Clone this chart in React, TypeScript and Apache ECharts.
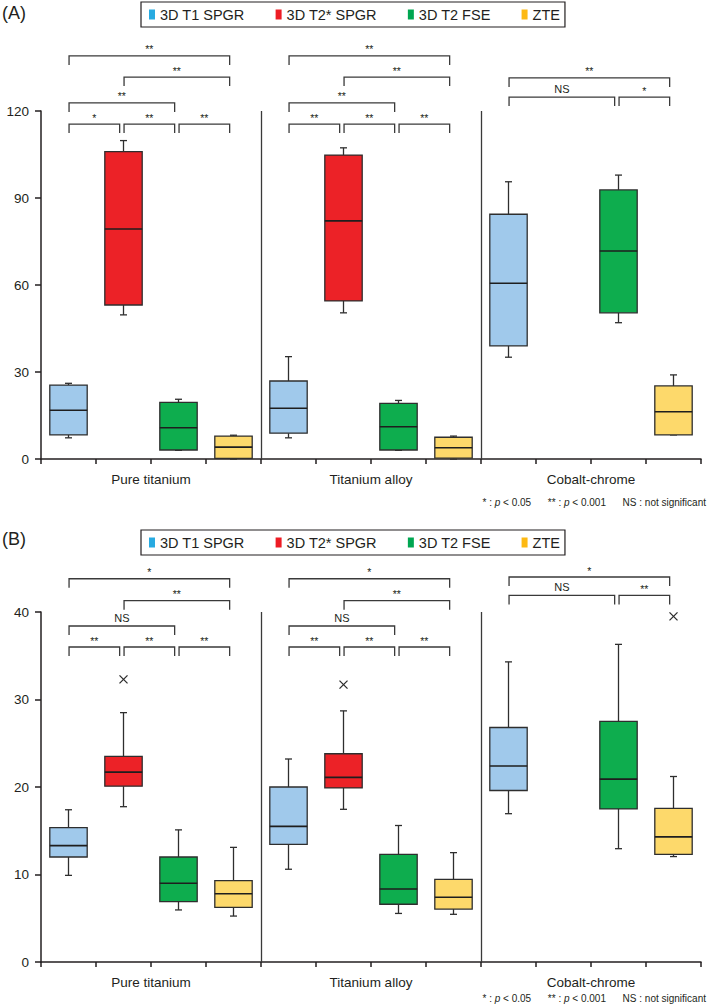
import React, { useEffect, useRef } from 'react';
import * as echarts from 'echarts';

// ---------- data ----------
const categories = ['Pure titanium', 'Titanium alloy', 'Cobalt-chrome'];
const modalities = ['3D T1 SPGR', '3D T2* SPGR', '3D T2 FSE', 'ZTE'];
const legendColors = ['#27AAE1', '#ED1C24', '#00A651', '#FDB913'];
const boxColors = ['#A0C9EB', '#EC2227', '#0EAD4E', '#FDD96B'];

// Panel A: [min, q1, median, q3, max] per category (null = not measured)
const aT1 = [[7.3, 8.3, 16.8, 25.5, 26.1], [7.3, 8.9, 17.5, 26.9, 35.3], [35.1, 39.0, 60.6, 84.4, 95.6]];
const aT2s = [[49.7, 53.1, 79.3, 106.0, 109.8], [50.4, 54.5, 82.1, 104.8, 107.3], null];
const aFSE = [[3.0, 3.1, 10.8, 19.5, 20.6], [3.0, 3.1, 11.1, 19.2, 20.2], [47.0, 50.4, 71.7, 92.8, 97.9]];
const aZTE = [[0.0, 0.2, 4.1, 7.9, 8.2], [0.0, 0.3, 3.9, 7.5, 7.9], [8.3, 8.3, 16.3, 25.2, 29.0]];

// Panel B
const bT1 = [[9.9, 12.0, 13.3, 15.35, 17.4], [10.6, 13.45, 15.5, 20.0, 23.2], [16.95, 19.6, 22.4, 26.8, 34.3]];
const bT2s = [[17.75, 20.1, 21.7, 23.5, 28.5], [17.45, 19.9, 21.1, 23.8, 28.7], null];
const bFSE = [[5.95, 6.9, 9.0, 12.0, 15.1], [5.55, 6.6, 8.35, 12.3, 15.6], [12.95, 17.5, 20.9, 27.5, 36.3]];
const bZTE = [[5.25, 6.25, 7.8, 9.3, 13.1], [5.45, 6.05, 7.4, 9.45, 12.5], [12.05, 12.3, 14.3, 17.55, 21.2]];

// Outliers (panel B) per modality, per category
const bT2sOutliers = [32.3, 31.7, null];
const bZTEOutliers = [null, null, 39.5];

// Significance brackets: [category, fromModality, toModality, level, label]
const aBrackets: [number, number, number, number, string][] = [
  [0, 0, 1, 115.5, '*'], [0, 1, 2, 115.5, '**'], [0, 2, 3, 115.5, '**'],
  [0, 0, 2, 122.8, '**'], [0, 1, 3, 131.7, '**'], [0, 0, 3, 139.0, '**'],
  [1, 0, 1, 115.5, '**'], [1, 1, 2, 115.5, '**'], [1, 2, 3, 115.5, '**'],
  [1, 0, 2, 122.8, '**'], [1, 1, 3, 131.7, '**'], [1, 0, 3, 139.0, '**'],
  [2, 0, 2, 124.8, 'NS'], [2, 2, 3, 124.8, '*'], [2, 0, 3, 131.4, '**'],
];
const bBrackets: [number, number, number, number, string][] = [
  [0, 0, 1, 36.0, '**'], [0, 1, 2, 36.0, '**'], [0, 2, 3, 36.0, '**'],
  [0, 0, 2, 38.4, 'NS'], [0, 1, 3, 41.3, '**'], [0, 0, 3, 43.8, '*'],
  [1, 0, 1, 36.0, '**'], [1, 1, 2, 36.0, '**'], [1, 2, 3, 36.0, '**'],
  [1, 0, 2, 38.4, 'NS'], [1, 1, 3, 41.3, '**'], [1, 0, 3, 43.8, '*'],
  [2, 0, 2, 41.9, 'NS'], [2, 2, 3, 41.9, '**'], [2, 0, 3, 44.0, '*'],
];

const aYTicks = { min: 0, max: 120, interval: 30 };
const bYTicks = { min: 0, max: 40, interval: 10 };

// ---------- styling ----------
const INK = '#231F20';
const BOX_STROKE = '#2E2E2E';
const FONT = '"Liberation Sans", Arial, Helvetica, sans-serif';

const slotX = (cat: number, mod: number) => cat * 4 + mod + 0.5;

function boxRender(fill: string) {
  return (params: any, api: any) => {
    const x = api.value(0);
    const mn = api.value(1), q1 = api.value(2), md = api.value(3), q3 = api.value(4), mx = api.value(5);
    const w = api.size([1, 0])[0] * 0.68;
    const half = w / 2;
    const cap = 3.5;
    const pMin = api.coord([x, mn]);
    const pQ1 = api.coord([x, q1]);
    const pMd = api.coord([x, md]);
    const pQ3 = api.coord([x, q3]);
    const pMax = api.coord([x, mx]);
    const cx = pMd[0];
    const ls = { stroke: BOX_STROKE, lineWidth: 1.3 };
    return {
      type: 'group',
      children: [
        { type: 'line', shape: { x1: cx, y1: pQ3[1], x2: cx, y2: pMax[1] }, style: ls },
        { type: 'line', shape: { x1: cx - cap, y1: pMax[1], x2: cx + cap, y2: pMax[1] }, style: ls },
        { type: 'line', shape: { x1: cx, y1: pQ1[1], x2: cx, y2: pMin[1] }, style: ls },
        { type: 'line', shape: { x1: cx - cap, y1: pMin[1], x2: cx + cap, y2: pMin[1] }, style: ls },
        {
          type: 'rect',
          shape: { x: cx - half, y: pQ3[1], width: w, height: Math.max(pQ1[1] - pQ3[1], 0.5) },
          style: { fill, stroke: BOX_STROKE, lineWidth: 1.3 },
        },
        { type: 'line', shape: { x1: cx - half, y1: pMd[1], x2: cx + half, y2: pMd[1] }, style: { stroke: '#1E1E1E', lineWidth: 1.6 } },
      ],
    };
  };
}

function outlierRender(params: any, api: any) {
  const p = api.coord([api.value(0), api.value(1)]);
  const s = 4;
  const st = { stroke: '#2B2B2B', lineWidth: 1.2 };
  return {
    type: 'group',
    children: [
      { type: 'line', shape: { x1: p[0] - s, y1: p[1] - s, x2: p[0] + s, y2: p[1] + s }, style: st },
      { type: 'line', shape: { x1: p[0] - s, y1: p[1] + s, x2: p[0] + s, y2: p[1] - s }, style: st },
    ],
  };
}

function bracketRender(list: [number, number, number, number, string][]) {
  return (params: any, api: any) => {
    const b = list[params.dataIndex];
    const p1 = api.coord([api.value(0), api.value(2)]);
    const p2 = api.coord([api.value(1), api.value(2)]);
    const drop = 9;
    const y = p1[1];
    const label = b[4];
    const isNS = label === 'NS';
    return {
      type: 'group',
      children: [
        {
          type: 'polyline',
          shape: { points: [[p1[0], y + drop], [p1[0], y], [p2[0], y], [p2[0], y + drop]] },
          style: { stroke: '#3A3A3A', lineWidth: 1.3, fill: 'none' },
        },
        {
          type: 'text',
          style: {
            text: label,
            x: (p1[0] + p2[0]) / 2,
            y: isNS ? y - 3 : y - 1,
            textAlign: 'center',
            align: 'center',
            textVerticalAlign: 'bottom',
            verticalAlign: 'bottom',
            fontSize: isNS ? 11 : 10.5,
            fontFamily: FONT,
            fill: INK,
            textFill: INK,
          },
        },
      ],
    };
  };
}

const bracketData = (list: [number, number, number, number, string][]) =>
  list.map(([c, f, t, lvl]) => [slotX(c, f) + 0.01, slotX(c, t) - 0.07, lvl]);

const boxData = (rows: (number[] | null)[], mod: number) =>
  rows
    .map((r, c) => (r ? [slotX(c, mod), ...r] : null))
    .filter((d) => d !== null);

const outlierData = (vals: (number | null)[], mod: number) =>
  vals.map((v, c) => (v === null ? null : [slotX(c, mod), v])).filter((d) => d !== null);

function buildOption() {
  const panelBoxes = [
    [aT1, aT2s, aFSE, aZTE],
    [bT1, bT2s, bFSE, bZTE],
  ];
  const series: any[] = [];
  panelBoxes.forEach((boxes, p) => {
    boxes.forEach((rows, m) => {
      series.push({
        type: 'custom',
        name: modalities[m],
        xAxisIndex: p,
        yAxisIndex: p,
        renderItem: boxRender(boxColors[m]),
        itemStyle: { color: legendColors[m] },
        data: boxData(rows, m),
        z: 3,
      });
    });
  });
  [aBrackets, bBrackets].forEach((list, p) => {
    series.push({
      type: 'custom',
      name: 'brackets' + p,
      xAxisIndex: p,
      yAxisIndex: p,
      clip: false,
      renderItem: bracketRender(list),
      itemStyle: { color: INK },
      data: bracketData(list),
      silent: true,
      markLine: {
        silent: true,
        symbol: ['none', 'none'],
        label: { show: false },
        lineStyle: { color: '#3A3A3A', width: 1.3, type: 'solid' },
        data: [{ xAxis: 4 }, { xAxis: 8 }],
      },
    });
  });
  series.push({
    type: 'custom',
    name: 'outliersT2s',
    xAxisIndex: 1,
    yAxisIndex: 1,
    clip: false,
    renderItem: outlierRender,
    itemStyle: { color: INK },
    data: outlierData(bT2sOutliers, 1),
  });
  series.push({
    type: 'custom',
    name: 'outliersZTE',
    xAxisIndex: 1,
    yAxisIndex: 1,
    clip: false,
    renderItem: outlierRender,
    itemStyle: { color: INK },
    data: outlierData(bZTEOutliers, 3),
  });

  const legendBase = (top: number) => ({
    top,
    left: 141,
    orient: 'horizontal',
    selectedMode: false,
    borderColor: INK,
    borderWidth: 1.2,
    borderRadius: 0,
    backgroundColor: '#fff',
    padding: [5, 5, 5, 8],
    itemWidth: 6,
    itemHeight: 10,
    itemGap: 31,
    textStyle: { fontSize: 14.5, color: INK, fontFamily: FONT },
    data: modalities.map((n, i) => ({ name: n, icon: 'rect', itemStyle: { color: legendColors[i] } })),
  });

  const xAxisBase = (gridIndex: number) => ({
    type: 'value',
    gridIndex,
    min: 0,
    max: 12,
    interval: 1,
    axisLine: { show: true, lineStyle: { color: INK, width: 1.5 } },
    axisTick: { show: true, length: 5, lineStyle: { color: INK, width: 1.5 } },
    splitLine: { show: false },
    axisLabel: {
      margin: 13,
      fontSize: 13.5,
      color: INK,
      fontFamily: FONT,
      showMinLabel: true,
      showMaxLabel: true,
      formatter: (v: number) => {
        const k = (v - 2) / 4;
        return Number.isInteger(k) && k >= 0 && k < categories.length ? categories[k] : '';
      },
    },
  });

  const yAxisBase = (gridIndex: number, t: { min: number; max: number; interval: number }) => ({
    type: 'value',
    gridIndex,
    min: t.min,
    max: t.max,
    interval: t.interval,
    axisLine: { show: true, lineStyle: { color: INK, width: 1.5 } },
    axisTick: { show: true, length: 6, lineStyle: { color: INK, width: 1.5 } },
    splitLine: { show: false },
    axisLabel: { margin: 12, fontSize: 13.5, color: INK, fontFamily: FONT },
  });

  const footnote = (top: number) => ({
    type: 'text',
    right: 3,
    top,
    style: {
      text: '{t|* : }{i|p}{t| < 0.05      ** : }{i|p}{t| < 0.001      NS : not significant}',
      rich: {
        t: { fontSize: 10, fill: INK, color: INK, fontFamily: FONT },
        i: { fontSize: 10, fontStyle: 'italic', fill: INK, color: INK, fontFamily: FONT },
      },
    },
  });

  return {
    animation: false,
    backgroundColor: '#ffffff',
    textStyle: { fontFamily: FONT },
    legend: [legendBase(2), legendBase(530)],
    grid: [
      { left: 41, right: 8, top: 111, height: 348 },
      { left: 41, right: 8, top: 612, height: 350 },
    ],
    xAxis: [xAxisBase(0), xAxisBase(1)],
    yAxis: [yAxisBase(0, aYTicks), yAxisBase(1, bYTicks)],
    graphic: [
      { type: 'text', left: 2, top: 4, style: { text: '(A)', fontSize: 18, fill: INK, fontFamily: FONT } },
      { type: 'text', left: 2, top: 530, style: { text: '(B)', fontSize: 18, fill: INK, fontFamily: FONT } },
      footnote(497),
      footnote(993),
    ],
    series,
  };
}

export default function App() {
  const ref = useRef<HTMLDivElement>(null);
  useEffect(() => {
    if (!ref.current) return;
    const chart = echarts.init(ref.current, null, { renderer: 'svg' });
    chart.setOption(buildOption() as any);
    return () => chart.dispose();
  }, []);
  return (
    <div
      ref={ref}
      style={{ position: 'absolute', left: 0, top: 0, width: 709, height: 1004, background: '#fff' }}
    />
  );
}
